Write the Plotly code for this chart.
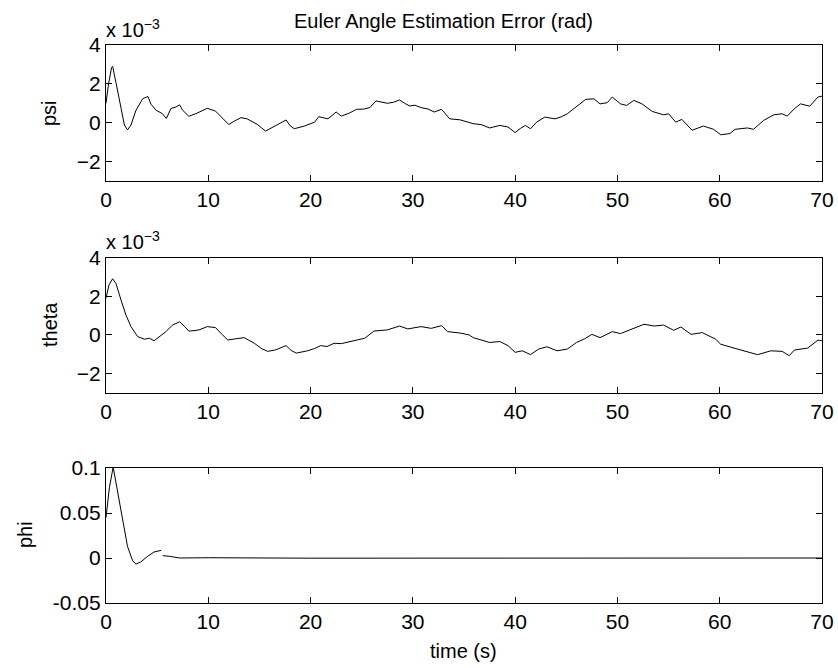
import plotly.graph_objects as go
from plotly.subplots import make_subplots

# ---- data (psi and theta in units of 1e-3 rad) ----
psi_time = [0.0, 0.25, 0.55, 0.65, 1.0, 1.47, 1.8, 2.1, 2.44, 2.93, 3.6, 4.1, 4.4, 4.9, 5.5, 5.9,
            6.35, 6.84, 7.2, 7.5, 8.1, 8.8, 9.4, 9.9, 10.7, 11.3, 12.0, 12.6, 13.2, 13.8, 14.3,
            14.8, 15.6, 16.4, 17.0, 17.6, 18.0, 18.4, 19.4, 20.4, 20.8, 21.7, 22.5, 23.0, 23.8,
            24.5, 25.2, 25.8, 26.4, 27.5, 28.1, 28.7, 29.2, 29.7, 30.2, 30.8, 31.5, 32.1, 32.8,
            33.6, 34.6, 35.5, 35.9, 36.7, 37.5, 38.5, 39.3, 40.0, 40.5, 41.0, 41.5, 42.1, 42.9,
            43.9, 44.5, 45.1, 45.9, 46.9, 47.7, 48.3, 49.0, 49.5, 50.3, 50.9, 51.6, 52.4, 53.4,
            54.5, 55.0, 55.7, 56.3, 56.8, 57.3, 58.4, 59.4, 60.1, 61.0, 61.5, 62.7, 63.3, 64.3,
            65.3, 66.1, 66.6, 67.3, 67.9, 68.8, 69.6, 70.0]
psi_values = [1.0, 2.0, 2.85, 2.9, 2.0, 0.64, -0.12, -0.37, -0.12, 0.64, 1.24, 1.35, 0.95, 0.64,
              0.47, 0.22, 0.73, 0.81, 0.92, 0.64, 0.33, 0.47, 0.64, 0.74, 0.6, 0.3, -0.09, 0.1,
              0.26, 0.2, 0.05, -0.09, -0.43, -0.2, -0.05, 0.14, -0.15, -0.31, -0.17, 0.03, 0.31,
              0.2, 0.55, 0.34, 0.5, 0.69, 0.7, 0.78, 1.12, 1.0, 1.05, 1.17, 1.0, 0.86, 0.9, 0.78,
              0.7, 0.55, 0.69, 0.2, 0.15, 0.03, -0.05, -0.1, -0.27, -0.14, -0.22, -0.51, -0.3,
              -0.14, -0.31, 0.03, 0.29, 0.2, 0.3, 0.46, 0.8, 1.2, 1.23, 0.97, 1.03, 1.32, 0.97,
              0.89, 1.15, 0.97, 0.58, 0.41, 0.46, 0.03, 0.17, -0.1, -0.39, -0.17, -0.34, -0.62,
              -0.56, -0.34, -0.27, -0.34, 0.12, 0.41, 0.46, 0.34, 0.72, 0.97, 0.85, 1.32, 1.37]

theta_time = [0.0, 0.3, 0.65, 0.98, 1.47, 1.95, 2.44, 3.1, 3.75, 4.24, 4.7, 5.4, 5.86, 6.5, 7.2,
              7.7, 8.1, 8.6, 9.1, 9.9, 10.7, 11.3, 11.9, 12.7, 13.5, 14.5, 15.2, 15.8, 16.6,
              17.6, 18.1, 18.6, 19.7, 20.4, 21.0, 21.6, 22.3, 23.0, 23.6, 24.5, 25.3, 26.2,
              27.5, 28.7, 29.5, 30.8, 31.8, 32.8, 33.4, 34.6, 35.5, 35.9, 36.7, 37.5, 38.5,
              39.3, 40.0, 40.7, 41.5, 42.3, 43.1, 44.1, 45.1, 46.0, 46.8, 47.5, 48.3, 49.5,
              50.3, 51.3, 52.6, 53.6, 54.5, 55.5, 56.2, 57.2, 58.3, 59.6, 60.1, 61.4, 62.7,
              63.7, 65.0, 66.1, 66.8, 67.3, 68.6, 69.6, 70.0]
theta_values = [1.9, 2.6, 2.9, 2.65, 1.8, 1.03, 0.43, -0.09, -0.22, -0.17, -0.3, 0.0, 0.17, 0.51,
                0.68, 0.43, 0.2, 0.22, 0.26, 0.43, 0.38, 0.05, -0.26, -0.2, -0.14, -0.43, -0.7,
                -0.85, -0.77, -0.55, -0.8, -0.94, -0.82, -0.7, -0.55, -0.6, -0.43, -0.45, -0.38,
                -0.3, -0.17, 0.2, 0.26, 0.46, 0.31, 0.43, 0.34, 0.48, 0.17, 0.1, 0.0, -0.14,
                -0.25, -0.39, -0.34, -0.55, -0.9, -0.82, -1.02, -0.73, -0.61, -0.82, -0.73,
                -0.39, -0.2, 0.03, -0.14, 0.17, 0.07, 0.29, 0.55, 0.46, 0.51, 0.24, 0.41, 0.03,
                0.12, -0.22, -0.48, -0.68, -0.85, -1.02, -0.82, -0.85, -1.07, -0.78, -0.68,
                -0.27, -0.3]

phi_time = [0.0, 0.33, 0.7, 1.14, 1.63, 2.1, 2.6, 2.93, 3.4, 4.07, 4.7, 5.4, 5.47, 5.54, 6.2,
            7.2, 10.0, 20.0, 30.0, 40.0, 50.0, 60.0, 70.0]
phi_values = [0.045, 0.078, 0.101, 0.074, 0.041, 0.013, -0.003, -0.0067, -0.0044, 0.0019,
              0.0067, 0.0085, None, 0.0026, 0.0019, 0.0, 0.0003, -0.0002, 0.0, 0.0, 0.0, 0.0, 0.0]

x_ticks = [0, 10, 20, 30, 40, 50, 60, 70]
psi_ticks = [-2, 0, 2, 4]
theta_ticks = [-2, 0, 2, 4]
phi_ticks = [-0.05, 0, 0.05, 0.1]
phi_ticktext = ["-0.05", "0", "0.05", "0.1"]

title_text = "Euler Angle Estimation Error (rad)"
xlabel = "time (s)"

# ---- figure ----
W, H = 838, 668
PL, PR, PT, PB = 106, 822, 45, 603      # plot area in window pixels
L, R, T, B = PL, W - PR, PT, H - PB
PH = PB - PT
PW = PR - PL


def fy(py):
    return (PB - py) / PH


def fx(px):
    return (px - PL) / PW


fig = make_subplots(rows=3, cols=1)
line = dict(color="black", width=1)
fig.add_trace(go.Scatter(x=psi_time, y=psi_values, mode="lines", line=line), row=1, col=1)
fig.add_trace(go.Scatter(x=theta_time, y=theta_values, mode="lines", line=line), row=2, col=1)
fig.add_trace(go.Scatter(x=phi_time, y=phi_values, mode="lines", line=line,
                         connectgaps=False), row=3, col=1)

font = dict(family="Liberation Sans, Arial, sans-serif", size=20, color="black")
tick_font = dict(family="Liberation Sans, Arial, sans-serif", size=21, color="black")
axis_common = dict(showline=True, linecolor="black", linewidth=1.3, mirror="ticks",
                   ticks="inside", ticklen=6, tickcolor="black", tickwidth=1,
                   showgrid=False, zeroline=False, tickfont=tick_font, automargin=False)

domains = [[fy(181), 1.0], [fy(393), fy(257.5)], [0.0, fy(468)]]
for i, (ax, ay) in enumerate([("xaxis", "yaxis"), ("xaxis2", "yaxis2"), ("xaxis3", "yaxis3")]):
    fig.layout[ax].update(range=[0, 70], tickvals=x_ticks, **axis_common)
    fig.layout[ay].update(domain=domains[i], **axis_common)

fig.layout.yaxis.update(range=[-3, 4], tickvals=psi_ticks)
fig.layout.yaxis2.update(range=[-3, 4], tickvals=theta_ticks)
fig.layout.yaxis3.update(range=[-0.05, 0.1], tickvals=phi_ticks, ticktext=phi_ticktext)

ann = []
ann.append(dict(text=title_text, x=fx(443), y=fy(34), xref="paper", yref="paper",
                xanchor="center", yanchor="bottom", showarrow=False, font=font))
ann.append(dict(text=xlabel, x=fx(463), y=fy(651), xref="paper", yref="paper",
                xanchor="center", yanchor="middle", showarrow=False, font=font))
ann.append(dict(text="x 10<sup>−3</sup>", x=fx(104), y=fy(43), xref="paper", yref="paper",
                xanchor="left", yanchor="bottom", showarrow=False, font=font))
ann.append(dict(text="x 10<sup>−3</sup>", x=fx(104), y=fy(255), xref="paper", yref="paper",
                xanchor="left", yanchor="bottom", showarrow=False, font=font))
for name, px, py in [("psi", 49, 113), ("theta", 50, 325), ("phi", 25, 535)]:
    ann.append(dict(text=name, x=fx(px), y=fy(py), xref="paper", yref="paper",
                    xanchor="center", yanchor="middle", textangle=-90, showarrow=False,
                    font=font))

fig.update_layout(width=W, height=H, margin=dict(l=L, r=R, t=T, b=B, autoexpand=False),
                  paper_bgcolor="white", plot_bgcolor="white", showlegend=False,
                  font=font, annotations=ann)

fig.write_html("out.html",
               config={"displayModeBar": False},
               post_script="document.body.style.margin='0';"
                           "document.body.style.overflow='hidden';")
